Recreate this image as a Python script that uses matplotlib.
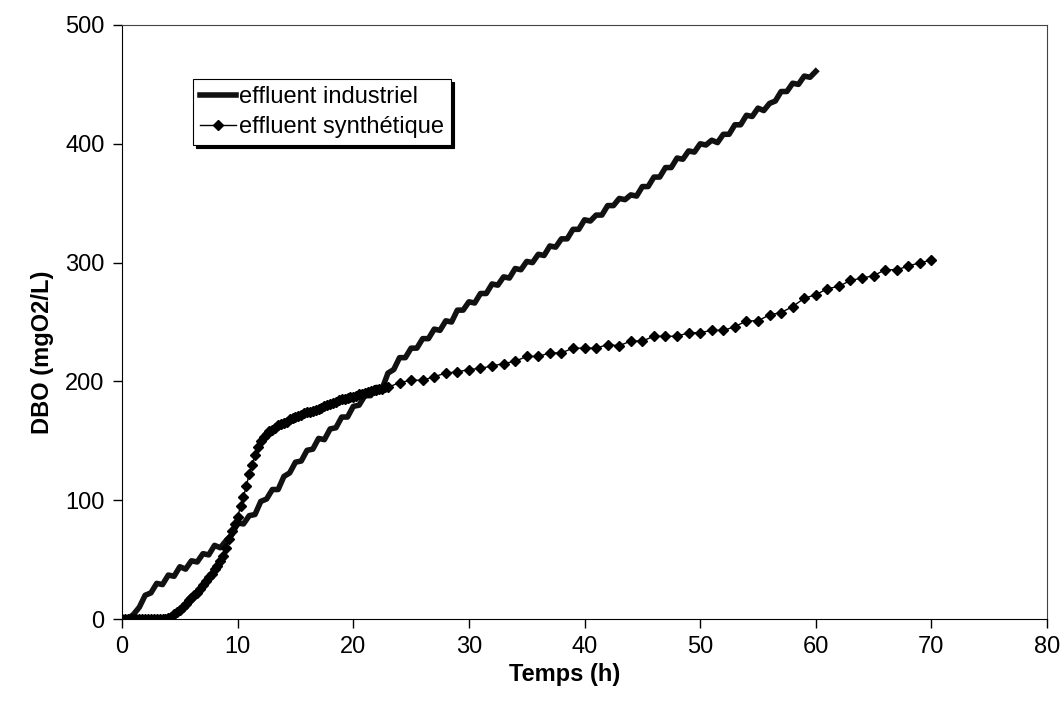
import numpy as np
import matplotlib.pyplot as plt

plt.rcParams['font.family'] = ['Liberation Sans', 'DejaVu Sans']

# effluent industriel: mesure toutes les 0.5 h
t_ind = np.arange(0, 60.01, 0.5)
dbo_ind = [0, 0, 4, 10, 20, 22, 30, 29, 37, 36, 44, 42, 49, 48, 55, 54, 62, 60, 66, 71,
           81, 80, 87, 88, 99, 101, 109, 109, 120, 123, 132, 133, 142, 143, 152, 151,
           160, 161, 170, 170, 179, 180, 188, 188, 195, 194, 207, 210, 220, 220,
           228, 228, 236, 236, 244, 243, 251, 250, 260, 260, 267, 266, 274, 274,
           282, 281, 288, 287, 295, 294, 301, 300, 307, 306, 314, 313, 320, 320,
           328, 328, 336, 335, 340, 340, 348, 348, 354, 353, 357, 356, 364, 364,
           372, 372, 380, 380, 388, 387, 394, 393, 400, 399, 403, 401, 408, 408,
           416, 416, 424, 423, 430, 428, 434, 436, 444, 444, 451, 450, 457, 456, 461]

# effluent synthetique: toutes les 0.25 h jusqu'a 23 h, puis toutes les heures
t_syn = list(np.arange(0, 23.01, 0.25)) + list(range(24, 71))
dbo_syn = [0] * 16 + [1, 2, 4, 6, 8, 10, 13, 16, 18, 20, 22, 25, 29, 32, 35, 38,
           42, 45, 49, 53, 60, 67, 74, 80, 86, 95, 103, 112, 122, 130, 138, 145,
           150, 153, 156, 158, 159, 161, 163, 164, 165, 166, 168, 169, 170, 171,
           172, 173, 174, 174, 175, 176, 177, 178, 179, 180, 181, 182, 183, 184,
           185, 185, 186, 187, 187, 188, 189, 189, 190, 191, 192, 193, 193, 194,
           194, 195, 195] + \
          [199, 201, 201, 204, 207, 208, 210, 211, 213, 215, 217, 221, 221, 224,
           224, 228, 228, 228, 231, 230, 234, 234, 238, 238, 238, 241, 241, 243,
           243, 246, 251, 251, 256, 258, 263, 270, 273, 278, 280, 285, 287, 289,
           294, 294, 297, 300, 302]

fig = plt.figure(figsize=(10.63, 7.02), dpi=100)
ax = fig.add_axes([0.1148, 0.1182, 0.8702, 0.8462])

ax.plot(t_ind, dbo_ind, color='#111111', linewidth=4.0, label='effluent industriel')
ax.plot(t_syn, dbo_syn, color='black', linewidth=1.0, marker='D', markersize=5.5,
        label='effluent synthétique')

ax.set_xlim(0, 80)
ax.set_ylim(0, 500)
ax.set_xticks(range(0, 81, 10))
ax.set_yticks(range(0, 501, 100))
ax.tick_params(direction='out', length=6.5, width=1, labelsize=17, color='black', pad=6)
for s in ['left', 'bottom']:
    ax.spines[s].set_color('black')
for s in ['top', 'right']:
    ax.spines[s].set_color('#444444')

ax.set_xlabel('Temps (h)', fontsize=17, fontweight='bold', va='center', ha='center')
ax.set_ylabel('DBO (mgO2/L)', fontsize=17, fontweight='bold', va='center', ha='center')
ax.xaxis.set_label_coords(0.479, -0.093)
ax.yaxis.set_label_coords(-0.0865, 0.449)

leg = ax.legend(loc='upper left', bbox_to_anchor=(0.077, 0.909), borderaxespad=0,
                fontsize=17, frameon=True, fancybox=False,
                shadow={'color': 'black', 'alpha': 1},
                edgecolor='black', framealpha=1, handlelength=1.5,
                handletextpad=0.15, labelspacing=0.35, borderpad=0.3)
leg.get_frame().set_linewidth(0.8)

fig.savefig('out.png', dpi=100)
